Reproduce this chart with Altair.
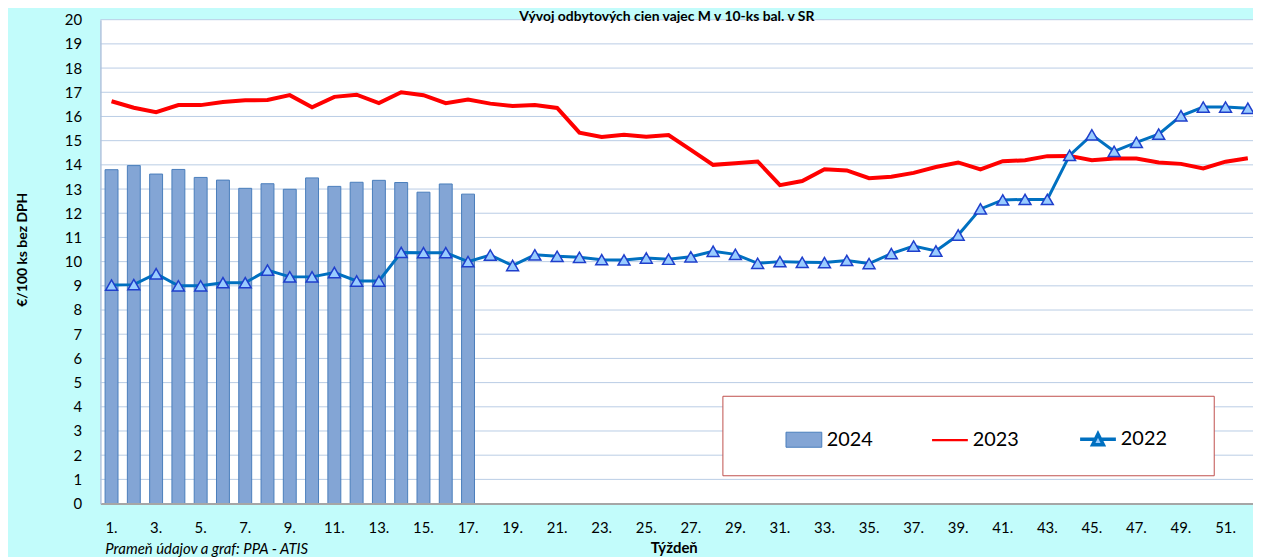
import altair as alt
import pandas as pd

title_text = "Vývoj odbytových cien vajec M v 10-ks bal. v SR"
y_title = "€/100 ks bez DPH"
x_title = "Týždeň"
source_text = "Prameň údajov a graf: PPA - ATIS"

weeks = list(range(1, 53))
odd_weeks = [w for w in weeks if w % 2 == 1]
y_ticks = list(range(0, 21))
series_names = ["2024", "2023", "2022"]

values_2024 = [13.80, 13.97, 13.62, 13.81, 13.48, 13.37, 13.03, 13.22, 12.99,
               13.46, 13.11, 13.28, 13.36, 13.27, 12.87, 13.21, 12.79]

values_2023 = [16.63, 16.36, 16.18, 16.47, 16.47, 16.60, 16.67, 16.68, 16.88, 16.38,
               16.81, 16.90, 16.55, 17.00, 16.88, 16.55, 16.70, 16.53, 16.43, 16.47,
               16.35, 15.33, 15.15, 15.24, 15.16, 15.23, 14.62, 14.00, 14.07, 14.14,
               13.16, 13.33, 13.82, 13.77, 13.45, 13.51, 13.67, 13.91, 14.10, 13.81,
               14.15, 14.19, 14.36, 14.37, 14.19, 14.26, 14.26, 14.10, 14.04, 13.85,
               14.13, 14.27]

values_2022 = [9.03, 9.05, 9.50, 9.00, 9.00, 9.13, 9.13, 9.65, 9.37, 9.37,
               9.55, 9.20, 9.20, 10.38, 10.37, 10.37, 10.00, 10.27, 9.84, 10.28,
               10.22, 10.18, 10.08, 10.07, 10.15, 10.10, 10.20, 10.43, 10.30, 9.93,
               10.00, 9.97, 9.96, 10.05, 9.92, 10.33, 10.64, 10.44, 11.10, 12.18,
               12.55, 12.57, 12.57, 14.39, 15.24, 14.56, 14.93, 15.27, 16.03, 16.39,
               16.39, 16.34]

df24 = pd.DataFrame({"week": weeks[:len(values_2024)], "value": values_2024})
df23 = pd.DataFrame({"week": weeks, "value": values_2023})
df22 = pd.DataFrame({"week": weeks, "value": values_2022})
df_grid = pd.DataFrame({"value": y_ticks})
df_leg = pd.DataFrame({"series": series_names})
df_src = pd.DataFrame({"t": [source_text]})
df_title = pd.DataFrame({"t": [title_text]})

FONT = "Lato"
BAR_FILL = "#83A5D5"
BAR_STROKE = "#4A7EBB"
RED = "#FF0000"
BLUE = "#0070C0"
TRI_FILL = "#99CCFF"
TRI_STROKE = "#1F3FCC"
GRID = "#B9CDE5"
BG = "#C2FCFB"

PLOT_W = 1160
PLOT_H = 487

x_scale = alt.Scale(domain=weeks, range=[0, 1166], paddingInner=0.42, paddingOuter=0.21)
y_scale = alt.Scale(domain=[0, 20], nice=False)

x_axis = alt.Axis(
    values=odd_weeks, labelExpr="datum.value + '.'", labelAngle=0,
    labelFont=FONT, labelFontSize=15, labelColor="black", labelPadding=24,
    labelBaseline="middle", labelOverlap=False, ticks=False, tickSize=0, grid=False,
    domainColor="#A6A6A6", domainWidth=2, zindex=1,
    title=x_title, titleFont=FONT, titleFontSize=15, titleFontWeight="bold",
    titleColor="black", titleX=577, titleY=44, titleBaseline="middle",
    titleAlign="center",
)

y_axis = alt.Axis(
    values=y_ticks, labelFont=FONT, labelFontSize=15, labelColor="black",
    labelPadding=19, labelOverlap=False, ticks=False, tickSize=0, grid=False,
    domainColor="#AFC3DD", domainWidth=1.5, zindex=1,
    title=y_title, titleFont=FONT, titleFontSize=14, titleFontWeight="bold",
    titleColor="black", titleX=-78, titleY=231, titleAngle=-90,
    titleAlign="center", titleBaseline="middle",
)


def xe():
    return alt.X("week:O", scale=x_scale, axis=x_axis, title=x_title)


def ye():
    return alt.Y("value:Q", scale=y_scale, axis=y_axis, title=y_title)


# white plot-area background
plot_bg = alt.Chart(df_src).mark_rect(fill="white").encode(
    x=alt.value(0), x2=alt.value(PLOT_W),
    y=alt.YDatum(20, scale=y_scale, axis=y_axis, title=y_title, type="quantitative"),
    y2=alt.Y2Datum(0),
)

# horizontal grid lines at every unit
grid = alt.Chart(df_grid).mark_rule(color=GRID, strokeWidth=1).encode(
    y=ye(), x=alt.value(0), x2=alt.value(PLOT_W),
)

bars = alt.Chart(df24).mark_bar(
    fill=BAR_FILL, stroke=BAR_STROKE, strokeWidth=1
).encode(x=xe(), y=ye())

red_line = alt.Chart(df23).mark_line(
    color=RED, strokeWidth=4
).encode(x=xe(), y=ye())

blue_line = alt.Chart(df22).mark_line(
    color=BLUE, strokeWidth=3,
    point=alt.OverlayMarkDef(shape="triangle-up", size=144, filled=True,
                             fill=TRI_FILL, stroke=TRI_STROKE, strokeWidth=1.5,
                             opacity=1),
).encode(x=xe(), y=ye())

source = alt.Chart(df_src).mark_text(
    align="left", baseline="middle", font=FONT, fontSize=15,
    fontStyle="italic", color="black",
).encode(x=alt.value(5), y=alt.value(533), text="t:N")

title = alt.Chart(df_title).mark_text(
    align="center", baseline="alphabetic", font=FONT, fontSize=14,
    fontWeight="bold", color="black",
).encode(x=alt.value(570), y=alt.value(1), text="t:N")

# legend frame
legend_box = alt.Chart(df_src).mark_rect(
    fill="white", stroke="#C0504D", strokeWidth=1
).encode(x=alt.value(626.5), x2=alt.value(1121), y=alt.value(379), y2=alt.value(459))

leg = alt.Legend(
    orient="none", legendX=688, legendY=402, direction="horizontal", columns=3,
    title="", padding=0,
    labelFont=FONT, labelFontSize=20, labelColor="black", labelOffset=3,
    columnPadding=54, symbolSize=1296,
)

sym_rect = "M-1,-0.42L1,-0.42L1,0.42L-1,0.42Z"
sym_line = "M-1,0L1,0"
sym_tri = "M-1,0L-0.15,0M0.15,0L1,0M0,-0.3L0.3,0.3L-0.3,0.3Z"

legend_layer = alt.Chart(df_leg).transform_filter("false").mark_point(
    filled=True, opacity=1
).encode(
    shape=alt.Shape("series:N", scale=alt.Scale(domain=series_names,
                    range=[sym_rect, sym_line, sym_tri]), legend=leg),
    fill=alt.Fill("series:N", scale=alt.Scale(domain=series_names,
                  range=[BAR_FILL, "transparent", TRI_FILL]), legend=leg),
    stroke=alt.Stroke("series:N", scale=alt.Scale(domain=series_names,
                      range=[BAR_STROKE, RED, BLUE]), legend=leg),
    strokeWidth=alt.StrokeWidth("series:N", scale=alt.Scale(domain=series_names,
                                range=[1, 3.5, 1.6]), legend=leg),
)

chart = alt.layer(
    plot_bg, grid, bars, red_line, blue_line, legend_box, source, title, legend_layer
).properties(
    width=PLOT_W,
    height=PLOT_H,
    background=BG,
    autosize=alt.AutoSizeParams(type="none"),
    padding={"left": 93, "top": 10, "right": 0, "bottom": 52},
).configure_view(strokeWidth=0)

chart.save("out.html", embed_options={"renderer": "svg", "actions": False})
